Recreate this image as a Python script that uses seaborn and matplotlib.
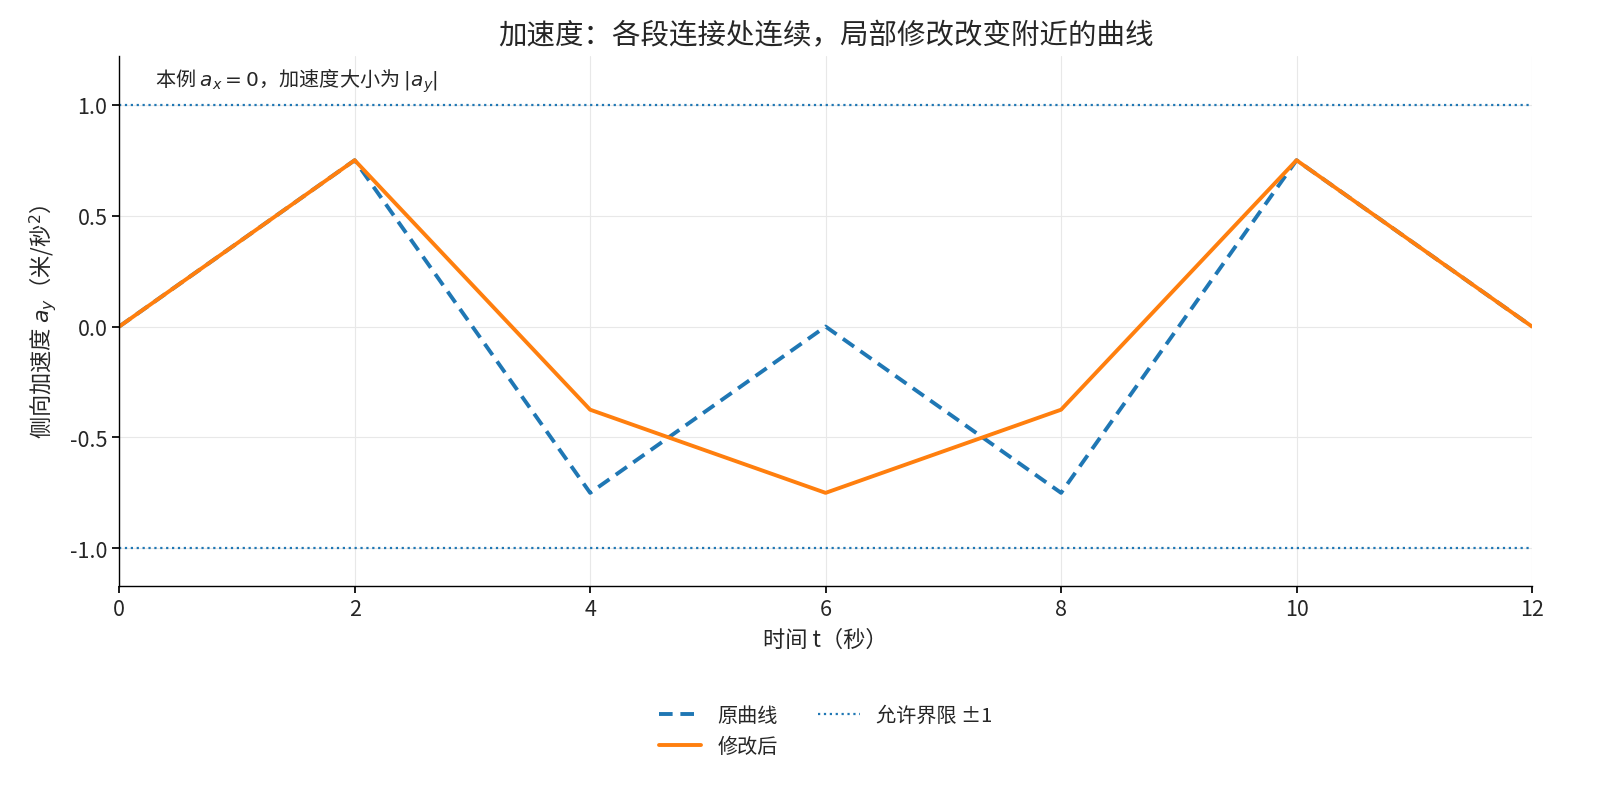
import numpy as np
import pandas as pd
import seaborn as sns
import matplotlib.pyplot as plt

t = [0, 2, 4, 6, 8, 10, 12]
original = [0, 0.75, -0.75, 0, -0.75, 0.75, 0]
modified = [0, 0.75, -0.375, -0.75, -0.375, 0.75, 0]
limit = 1.0

sns.set_theme(style='white')
plt.rcParams['font.family'] = ['Noto Sans CJK SC', 'DejaVu Sans']
plt.rcParams['axes.unicode_minus'] = False
plt.rcParams['mathtext.fontset'] = 'dejavusans'

df = pd.DataFrame({'t': t, '原曲线': original, '修改后': modified})

fig, ax = plt.subplots(figsize=(16, 8.03), dpi=100)
fig.subplots_adjust(left=0.0745, right=0.9575, top=0.929, bottom=0.269)

sns.lineplot(data=df, x='t', y='原曲线', ax=ax, color='#1f77b4', lw=2.8,
             label='原曲线')
ax.lines[-1].set_linestyle((0, (3.5, 2)))
sns.lineplot(data=df, x='t', y='修改后', ax=ax, color='#ff7f0e', lw=2.8,
             label='修改后')
ax.axhline(limit, color='#1f77b4', ls=':', lw=1.6, label='允许界限 ±1')
ax.axhline(-limit, color='#1f77b4', ls=':', lw=1.6)

ax.set_xlim(0, 12)
ax.set_ylim(-1.17, 1.22)
ax.set_xticks(t)
ax.set_yticks([-1.0, -0.5, 0.0, 0.5, 1.0])
ax.set_yticklabels(['-1.0', '-0.5', '0.0', '0.5', '1.0'])
ax.tick_params(labelsize=15.5, length=5, bottom=True, left=True, color='black')
ax.grid(True, color='#e8e8e8', lw=0.8)
sns.despine(ax=ax)
for s in ['left', 'bottom']:
    ax.spines[s].set_color('black')
    ax.spines[s].set_linewidth(1.0)

ax.set_title('加速度：各段连接处连续，局部修改改变附近的曲线', fontsize=20.5, pad=9)
ax.set_xlabel('时间 t（秒）', fontsize=16, labelpad=6)
ax.set_ylabel('侧向加速度 $a_y$（米/秒$^2$）', fontsize=16, labelpad=8)
ax.text(0.025, 0.955, '本例 $a_x = 0$，加速度大小为 $|a_y|$', transform=ax.transAxes,
        fontsize=14.5, va='center')

h, l = ax.get_legend_handles_labels()
ax.legend(h, l, loc='upper center', bbox_to_anchor=(0.5, -0.19), ncol=2,
          frameon=False, fontsize=14.5, handlelength=2.1, columnspacing=2.0)

fig.savefig('out.png')
